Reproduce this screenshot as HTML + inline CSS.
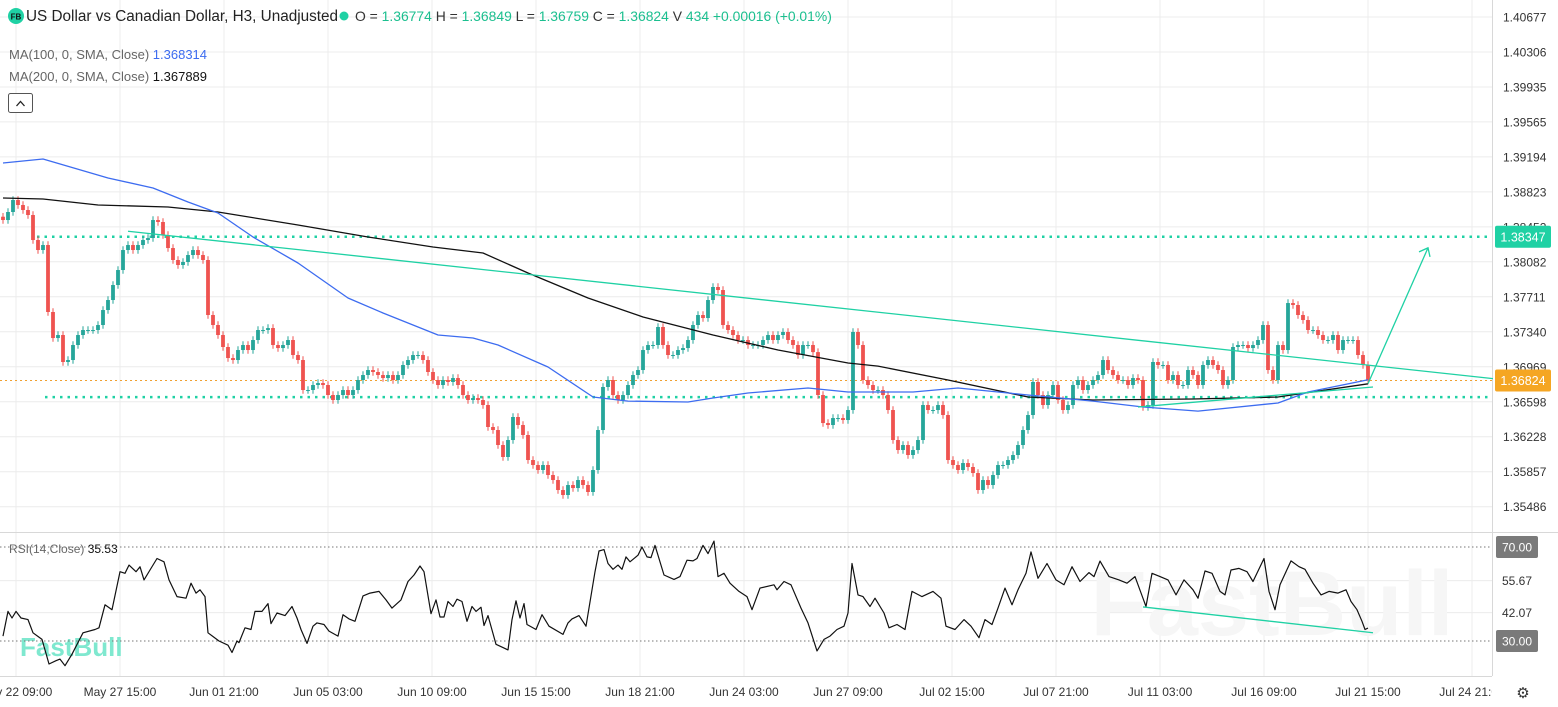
<!DOCTYPE html>
<html><head><meta charset="utf-8"><style>
html,body{margin:0;padding:0;background:#fff;overflow:hidden}
svg{display:block;font-family:"Liberation Sans",sans-serif}
</style></head><body>
<svg id="c" width="1558" height="707" viewBox="0 0 1558 707">
<g id="grid"></g>
<g id="wm">
<text x="1272" y="635" font-size="92" font-weight="bold" fill="#f6f6f6" text-anchor="middle">FastBull</text>
<text x="20" y="656" font-size="26" font-weight="bold" fill="#7fe8cf">FastBull</text>
</g>
<g id="marks"></g>
<g id="axes"></g>
<g id="hdr">
<circle cx="16" cy="16" r="8" fill="#1fd1a4"/>
<text x="16" y="19.5" font-size="8" font-weight="bold" fill="#111" text-anchor="middle">FB</text>
<text x="26" y="21" font-size="15.3" fill="#222">US Dollar vs Canadian Dollar, H3, Unadjusted</text>
<circle cx="344" cy="16" r="4.5" fill="#1fd1a4"/>
<text x="355" y="21" font-size="13.9" fill="#333">O = <tspan fill="#1bbf8f">1.36774</tspan>  H = <tspan fill="#1bbf8f">1.36849</tspan>  L = <tspan fill="#1bbf8f">1.36759</tspan>  C = <tspan fill="#1bbf8f">1.36824</tspan>  V <tspan fill="#1bbf8f">434</tspan>  <tspan fill="#1bbf8f">+0.00016 (+0.01%)</tspan></text>
<text x="9" y="59" font-size="13" fill="#666">MA(100, 0, SMA, Close)  <tspan fill="#3d6cf0">1.368314</tspan></text>
<text x="9" y="81" font-size="13" fill="#666">MA(200, 0, SMA, Close)  <tspan fill="#111">1.367889</tspan></text>
<rect x="8.5" y="93.5" width="24" height="19" rx="2" fill="#fff" stroke="#555"/>
<path d="M16.5 106 L20.5 101.5 L24.5 106" fill="none" stroke="#222" stroke-width="1.3"/>
<text x="9" y="553" font-size="12" fill="#666">RSI(14,Close)  <tspan fill="#111">35.53</tspan></text>
</g>
</svg>
<script>
const priceTicks=[1.40677,1.40306,1.39935,1.39565,1.39194,1.38823,1.38452,1.38082,1.37711,1.37340,1.36969,1.36598,1.36228,1.35857,1.35486];
const rsiTicks=[70.00,55.67,42.07,30.00];
const timeLabels=["May 22 09:00","May 27 15:00","Jun 01 21:00","Jun 05 03:00","Jun 10 09:00","Jun 15 15:00","Jun 18 21:00","Jun 24 03:00","Jun 27 09:00","Jul 02 15:00","Jul 07 21:00","Jul 11 03:00","Jul 16 09:00","Jul 21 15:00","Jul 24 21:00"];
const firstOpen=1.38560;
const closes=[1.38525,1.38610,1.38737,1.38684,1.38631,1.38578,1.38313,1.38207,1.38260,1.37550,1.37274,1.37306,1.37020,1.37041,1.37200,1.37306,1.37359,1.37359,1.37359,1.37412,1.37571,1.37677,1.37836,1.37995,1.38207,1.38260,1.38207,1.38260,1.38313,1.38334,1.38525,1.38504,1.38366,1.38228,1.38101,1.38048,1.38080,1.38154,1.38207,1.38154,1.38101,1.37518,1.37412,1.37306,1.37179,1.37062,1.37041,1.37147,1.37200,1.37147,1.37253,1.37359,1.37359,1.37380,1.37200,1.37168,1.37200,1.37253,1.37094,1.37041,1.36723,1.36723,1.36776,1.36797,1.36776,1.36670,1.36617,1.36670,1.36723,1.36670,1.36723,1.36829,1.36882,1.36935,1.36914,1.36882,1.36850,1.36882,1.36829,1.36882,1.36988,1.37041,1.37094,1.37094,1.37041,1.36914,1.36829,1.36776,1.36829,1.36808,1.36850,1.36776,1.36670,1.36617,1.36638,1.36617,1.36564,1.36331,1.36299,1.36140,1.36013,1.36193,1.36437,1.36352,1.36246,1.35981,1.35928,1.35875,1.35928,1.35822,1.35769,1.35663,1.35610,1.35716,1.35684,1.35769,1.35716,1.35642,1.35875,1.36299,1.36755,1.36829,1.36670,1.36617,1.36670,1.36776,1.36882,1.36935,1.37147,1.37200,1.37200,1.37391,1.37200,1.37094,1.37094,1.37147,1.37168,1.37253,1.37412,1.37518,1.37486,1.37677,1.37815,1.37783,1.37412,1.37359,1.37306,1.37253,1.37253,1.37200,1.37200,1.37200,1.37253,1.37306,1.37253,1.37306,1.37338,1.37253,1.37200,1.37094,1.37200,1.37200,1.37125,1.36670,1.36373,1.36352,1.36426,1.36426,1.36405,1.36511,1.37338,1.37200,1.36829,1.36776,1.36723,1.36723,1.36670,1.36511,1.36193,1.36087,1.36140,1.36034,1.36087,1.36193,1.36564,1.36511,1.36511,1.36564,1.36458,1.35981,1.35928,1.35875,1.35949,1.35907,1.35843,1.35663,1.35769,1.35716,1.35822,1.35928,1.35928,1.35981,1.36034,1.36140,1.36299,1.36458,1.36808,1.36670,1.36564,1.36670,1.36776,1.36617,1.36511,1.36564,1.36776,1.36829,1.36723,1.36776,1.36829,1.36882,1.37041,1.36935,1.36882,1.36829,1.36829,1.36776,1.36850,1.36829,1.36543,1.36564,1.37020,1.36988,1.36988,1.36829,1.36882,1.36776,1.36776,1.36935,1.36882,1.36776,1.36988,1.37041,1.36988,1.36935,1.36776,1.36829,1.37179,1.37200,1.37200,1.37168,1.37200,1.37253,1.37412,1.36935,1.36829,1.37200,1.37147,1.37645,1.37624,1.37518,1.37465,1.37359,1.37359,1.37306,1.37253,1.37253,1.37306,1.37147,1.37253,1.37253,1.37253,1.37094,1.36988,1.36824];
const ma100Bar=[0,8,21,30,37,43,50,59,69,76,87,94,99,109,118,125,137,142,149,161,169,182,191,205,218,228,239,255,261,273];
const ma100Val=[1.39129,1.39172,1.38970,1.38864,1.38716,1.38599,1.38345,1.38069,1.37698,1.37539,1.37306,1.37274,1.37200,1.36967,1.36649,1.36606,1.36596,1.36638,1.36691,1.36744,1.36702,1.36702,1.36744,1.36670,1.36606,1.36543,1.36500,1.36585,1.36702,1.36831];
const ma200Bar=[0,8,19,33,43,59,73,86,96,105,117,128,142,155,169,175,189,205,218,238,255,273];
const ma200Val=[1.38758,1.38748,1.38684,1.38663,1.38610,1.38472,1.38345,1.38239,1.38175,1.37963,1.37698,1.37497,1.37306,1.37147,1.37009,1.36977,1.36829,1.36649,1.36617,1.36628,1.36649,1.36789];
const rsiPoints=[[0,32.1],[1,42.6],[1.8,39.8],[2.6,42.6],[3.6,39.8],[5,39.1],[6,33.5],[7.8,30.7],[9.2,20.2],[10.6,21.6],[11.4,22.3],[12.4,19.5],[13.8,24.4],[16,33.5],[18.4,34.9],[19.2,35.6],[20.4,45.4],[21.8,43.3],[23.4,59.5],[24.4,58.8],[25.2,62.3],[26.6,59.5],[27.4,61.6],[28.2,56.0],[29.4,60.2],[30.8,65.1],[32.2,63.7],[33.2,56.0],[34.8,48.9],[36.6,48.2],[37.6,54.6],[38.6,50.4],[39.4,51.8],[40.4,48.9],[41,33.5],[43.2,30.0],[45,28.2],[45.8,25.1],[46.8,30.0],[47.2,29.3],[48.4,35.6],[49.6,34.9],[50.4,42.6],[51.8,42.6],[53,45.9],[53.6,37.4],[54.8,41.9],[56.4,40.8],[57.8,44.7],[58.8,39.8],[59.6,34.9],[60.8,29.0],[62,36.3],[62.8,37.7],[64.2,37.0],[65.2,34.2],[67,32.1],[68,41.2],[69.2,39.4],[70.4,38.4],[72,49.2],[73.4,50.4],[75.2,51.1],[76.6,47.5],[77.8,44.0],[79.6,47.5],[81,55.3],[82.2,58.1],[83.4,61.9],[84.2,59.5],[85.6,41.6],[86.6,47.5],[87.4,40.2],[88.2,40.2],[89,46.8],[90,44.7],[90.8,47.8],[91.8,46.8],[92.8,38.4],[93.8,44.7],[94.6,42.6],[95.6,44.4],[96.2,36.6],[97,40.8],[98.6,28.6],[100,27.2],[101,26.2],[101.8,39.1],[102.6,47.1],[103.4,39.8],[104.2,45.9],[104.8,37.0],[106.6,34.9],[107.8,41.2],[109.2,36.3],[112,32.8],[113,37.7],[113.8,39.4],[115.2,40.8],[116.6,36.3],[118.4,59.5],[119.2,68.3],[120.2,68.9],[121,63.0],[122,60.5],[123,62.3],[123.8,60.5],[124.6,65.8],[125.4,63.7],[127,66.5],[127.8,70.0],[128.8,65.8],[129.6,65.5],[130.4,70.7],[132.2,58.1],[134.2,56.2],[135.4,57.4],[136.8,64.4],[138,64.1],[138.8,65.1],[140,70.7],[141,67.2],[142.2,72.5],[143,57.4],[144.2,58.8],[145.4,54.6],[147.2,51.1],[148.8,48.9],[149.8,43.3],[151.4,52.5],[154.2,53.9],[154.8,51.8],[156.2,55.3],[157.6,53.9],[159.6,44.0],[161,37.7],[162.8,25.8],[164.2,30.7],[165.4,32.1],[166.8,34.9],[168.2,36.3],[169,41.9],[169.8,63.0],[171,49.6],[172,48.9],[173.4,44.7],[174.4,48.2],[176.2,41.9],[177.2,35.6],[178.8,37.0],[180.4,34.9],[181.8,51.1],[183.8,48.9],[186,51.1],[187.6,48.2],[188.6,36.3],[190.4,34.9],[192.2,39.1],[193.6,36.3],[195.2,31.4],[196.4,39.1],[197.8,37.0],[199,44.0],[200.4,52.5],[201.8,45.4],[203,51.8],[204.6,58.8],[205.6,67.9],[207,56.7],[208.8,63.0],[210.6,56.0],[212.2,53.9],[213.8,61.6],[215.4,55.3],[217.2,59.1],[218.2,57.4],[219.4,64.0],[221.2,57.4],[223.2,56.0],[224.8,54.6],[226.4,57.4],[228.6,44.7],[229.8,58.8],[231.4,57.4],[233,56.0],[234.6,49.6],[236.2,56.0],[238,51.8],[239,48.2],[240.4,59.8],[241.8,58.8],[243.4,51.1],[244.4,49.6],[245.6,60.2],[247.2,60.9],[248.8,59.5],[250,55.3],[252.2,65.1],[253.2,51.1],[254.4,43.3],[255.4,53.9],[257.6,64.1],[259.2,61.6],[260.4,60.5],[262,54.6],[263.6,49.6],[265.2,51.1],[267,50.4],[268.6,51.8],[269.6,46.8],[270.8,43.3],[271.8,38.4],[272.4,34.9],[273,35.5]];
const lastClose=1.36824, targetPrice=1.38347, supportPrice=1.36598+0.00050;
const resistLine=[25,1.38406,298,1.36844];
const supportLine=[227,1.36543,274,1.36755];
const arrowLine=[273,1.36790,285,1.38230];
const rsiTrend=[228,44.5,274,33.5];

const svg=document.getElementById('c'), NS='http://www.w3.org/2000/svg';
const X0=3, DX=5, PLOT_R=1492;
const xB=i=>X0+i*DX;
const yP=p=>17+(1.40677-p)/0.00371*35;
const yR=v=>547+(70-v)*94/40;
function el(tag,attrs,parent){const e=document.createElementNS(NS,tag);for(const k in attrs)e.setAttribute(k,attrs[k]);parent.appendChild(e);return e;}
const grid=document.getElementById('grid'), marks=document.getElementById('marks'), axes=document.getElementById('axes');

priceTicks.forEach(p=>{const g=el('line',{x1:0,x2:PLOT_R,y1:yP(p),y2:yP(p),stroke:'#ececec'},grid);

});
[55.67,42.07].forEach(v=>{const g=el('line',{x1:0,x2:PLOT_R,y1:yR(v),y2:yR(v),stroke:'#ececec'},grid);

});
timeLabels.forEach((t,k)=>{const x=16+k*104;const g=el('line',{x1:x,x2:x,y1:0,y2:676,stroke:'#ececec'},grid);

});
let s=el('line',{x1:0,x2:1558,y1:532.5,y2:532.5,stroke:'#d8d8d8'},grid);


s=el('line',{x1:0,x2:PLOT_R,y1:676.5,y2:676.5,stroke:'#d8d8d8'},grid);


s=el('line',{x1:PLOT_R+.5,x2:PLOT_R+.5,y1:0,y2:676,stroke:'#d8d8d8'},grid);



function hline(p,x1,color,dash,w,name){const l=el('line',{x1:x1,x2:PLOT_R,y1:yP(p),y2:yP(p),stroke:color,'stroke-width':w,'stroke-dasharray':dash},marks);

}
hline(lastClose,0,'#f0a030','2 3',1,'last-price-line');
hline(targetPrice,37,'#1fd1a4','2.5 5',2.5,'target-level-line');
hline(supportPrice,45,'#1fd1a4','2.5 5',2.5,'support-level-line');

closes.forEach((c,i)=>{const o=i===0?firstOpen:closes[i-1];const up=c>=o;const col=up?'#26a69a':'#ef5350';
const hi=Math.max(o,c)+0.0004, lo=Math.min(o,c)-0.0004;const x=xB(i);
const w=el('line',{x1:x,x2:x,y1:yP(hi),y2:yP(lo),stroke:col,'stroke-width':1},marks);


const top=yP(Math.max(o,c)),bot=yP(Math.min(o,c));
const b=el('rect',{x:x-1.9,y:top,width:3.8,height:Math.max(1,bot-top),fill:col},marks);

});

function poly(pts,color,w,name,parent){
const p=el('polyline',{points:pts.map(q=>q[0].toFixed(1)+','+q[1].toFixed(1)).join(' '),fill:'none',stroke:color,'stroke-width':w,'stroke-linejoin':'round'},parent);

}
poly(ma200Bar.map((b,k)=>[xB(b),yP(ma200Val[k])]),'#111',1.3,'ma200-line',marks);
poly(ma100Bar.map((b,k)=>[xB(b),yP(ma100Val[k])]),'#3d6cf0',1.3,'ma100-line',marks);

function seg(a,ys,name,w){const l=el('line',{x1:xB(a[0]),y1:ys(a[1]),x2:xB(a[2]),y2:ys(a[3]),stroke:'#1fd1a4','stroke-width':w},marks);

return l;}
seg(resistLine,yP,'resistance-trendline',1.3);
seg(supportLine,yP,'support-trendline',1.3);
seg(arrowLine,yP,'projection-arrow',1.3);
{const x2=xB(arrowLine[2]),y2=yP(arrowLine[3]);const h=el('path',{d:`M${x2-9} ${y2+4} L${x2} ${y2} L${x2+2} ${y2+9}`,fill:'none',stroke:'#1fd1a4','stroke-width':1.3},marks);

}

[70,30].forEach(v=>{const l=el('line',{x1:0,x2:PLOT_R,y1:yR(v),y2:yR(v),stroke:'#777','stroke-dasharray':'1.5 2.5'},marks);

});
poly(rsiPoints.map(q=>[xB(q[0]),yR(q[1])]),'#111',1.2,'rsi-line',marks);
seg(rsiTrend,yR,'rsi-trendline',1.3);

priceTicks.forEach(p=>{const t=el('text',{x:1503,y:yP(p)+4.5,'font-size':12,fill:'#333'},axes);t.textContent=p.toFixed(5);

});
function box(y,val,fill,name){const r=el('rect',{x:1495,y:y-11,width:56,height:22,rx:2,fill:fill},axes);


const t=el('text',{x:1523,y:y+4.5,'font-size':12.5,fill:'#fff','text-anchor':'middle'},axes);t.textContent=val;

}
box(yP(targetPrice),targetPrice.toFixed(5),'#1fd1a4','target-price-badge');
box(yP(lastClose),lastClose.toFixed(5),'#f5a623','last-price-badge');
rsiTicks.forEach(v=>{if(v===70||v===30){const r=el('rect',{x:1496,y:yR(v)-11,width:42,height:22,rx:2,fill:'#7a7a7a'},axes);

}
const t=el('text',{x:1517,y:yR(v)+4.5,'font-size':12,fill:(v===70||v===30)?'#fff':'#333','text-anchor':'middle'},axes);t.textContent=v.toFixed(2);

});
timeLabels.forEach((lab,k)=>{const t=el('text',{x:16+k*104,y:696,'font-size':12,fill:'#333','text-anchor':'middle'},axes);t.textContent=lab;

});
const cv=el('rect',{x:1492,y:680,width:66,height:27,fill:'#fff'},axes);


const gear=el('text',{x:1523,y:698,'font-size':15,fill:'#333','text-anchor':'middle'},axes);gear.textContent='⚙';


</script>
</body></html>
